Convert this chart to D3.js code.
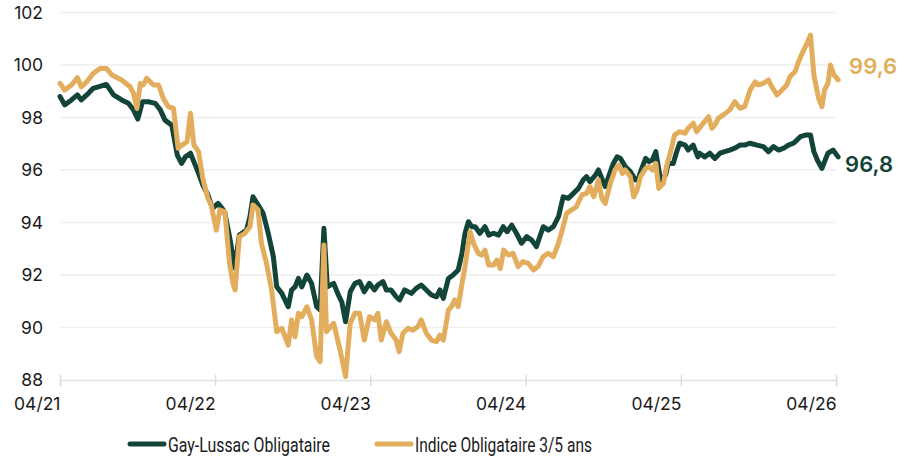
<!DOCTYPE html>
<html>
<head>
<meta charset="utf-8">
<script src="https://cdn.jsdelivr.net/npm/d3@7"></script>
<style>
  body { margin: 0; background: #fff; }
  svg { display: block; }
</style>
</head>
<body>
<svg id="chart" width="910" height="462"></svg>
<script>
// Gay-Lussac Obligataire (base 100)
var gayDates = ["2021-04-01","2021-04-12","2021-04-28","2021-05-12","2021-05-21","2021-06-03","2021-06-18","2021-06-30","2021-07-19","2021-08-05","2021-08-24","2021-09-09","2021-09-21","2021-10-01","2021-10-12","2021-10-26","2021-11-11","2021-11-23","2021-12-04","2021-12-20",
  "2022-01-02","2022-01-12","2022-01-21","2022-02-02","2022-02-10","2022-02-21","2022-03-03","2022-03-15","2022-03-26","2022-04-08","2022-04-20","2022-04-24","2022-05-05","2022-05-17","2022-05-28","2022-06-14","2022-06-22","2022-06-29","2022-07-11","2022-07-23","2022-08-04","2022-08-16","2022-08-24","2022-09-05","2022-09-20","2022-09-28","2022-10-06","2022-10-14","2022-10-22","2022-11-03","2022-11-14","2022-11-26","2022-12-04","2022-12-13","2022-12-21",
  "2023-01-05","2023-01-16","2023-01-24","2023-02-02","2023-02-13","2023-02-24","2023-03-07","2023-03-18","2023-03-30","2023-04-11","2023-04-19","2023-05-01","2023-05-09","2023-05-20","2023-06-01","2023-06-09","2023-06-21","2023-07-07","2023-07-18","2023-07-30","2023-08-11","2023-08-23","2023-09-04","2023-09-12","2023-09-20","2023-10-02","2023-10-13","2023-10-25","2023-11-03","2023-11-10","2023-11-18","2023-11-26","2023-12-04","2023-12-15","2023-12-27",
  "2024-01-05","2024-01-16","2024-01-28","2024-02-08","2024-02-17","2024-02-28","2024-03-10","2024-03-22","2024-04-03","2024-04-15","2024-04-26","2024-05-12","2024-05-24","2024-06-05","2024-06-17","2024-06-28","2024-07-10","2024-07-22","2024-08-03","2024-08-14","2024-08-22","2024-08-30","2024-09-12","2024-09-19","2024-09-27","2024-10-05","2024-10-13","2024-10-24","2024-11-02","2024-11-10","2024-11-21","2024-12-03","2024-12-15","2024-12-22","2024-12-30",
  "2025-01-08","2025-01-16","2025-01-24","2025-02-01","2025-02-12","2025-02-24","2025-03-02","2025-03-14","2025-03-21","2025-03-29","2025-04-11","2025-04-18","2025-04-30","2025-05-11","2025-05-15","2025-05-27","2025-06-08","2025-06-20","2025-07-02","2025-07-13","2025-07-25","2025-08-06","2025-08-18","2025-08-29","2025-09-11","2025-09-27","2025-10-12","2025-10-24","2025-11-05","2025-11-17","2025-11-29","2025-12-10","2025-12-22","2025-12-30",
  "2026-01-07","2026-01-19","2026-01-31","2026-02-08","2026-02-16","2026-02-27","2026-03-05","2026-03-13","2026-03-25","2026-04-06"];
var gayValues = [98.8,98.48,98.67,98.86,98.67,98.86,99.11,99.17,99.26,98.86,98.67,98.54,98.29,97.94,98.6,98.6,98.54,98.29,97.9,97.71,
  96.57,96.25,96.5,96.64,96.32,95.87,95.43,95.05,94.54,94.73,94.48,94.35,93.46,92.27,93.52,93.71,94.22,94.98,94.67,94.35,93.59,92.7,91.55,91.3,90.79,91.43,91.55,91.87,91.55,92.0,91.68,90.79,90.67,93.78,91.55,
  91.68,91.24,90.98,90.22,91.36,91.68,91.75,91.36,91.68,91.43,91.62,91.75,91.43,91.43,91.17,91.05,91.43,91.3,91.49,91.62,91.43,91.24,91.17,91.43,91.11,91.87,92.0,92.19,92.83,93.59,94.03,93.84,93.84,93.59,93.84,
  93.52,93.59,93.52,93.84,93.65,93.9,93.59,93.21,93.46,93.33,93.08,93.84,93.71,93.84,94.22,94.98,94.92,95.11,95.3,95.62,95.75,95.56,95.81,96.0,95.68,95.37,95.75,96.25,96.5,96.44,96.13,95.94,95.62,95.68,96.06,
  96.44,96.32,96.38,96.7,95.62,95.81,96.25,96.25,96.64,97.02,96.95,96.76,96.95,96.5,96.64,96.5,96.64,96.44,96.64,96.7,96.76,96.83,96.95,96.95,97.02,96.95,96.89,96.7,96.89,96.76,96.83,96.95,97.02,97.14,
  97.27,97.33,97.33,96.7,96.38,96.06,96.32,96.64,96.76,96.5];

// Indice Obligataire 3/5 ans (base 100)
var indexDates = ["2021-04-01","2021-04-12","2021-04-28","2021-05-12","2021-05-21","2021-06-03","2021-06-18","2021-07-04","2021-07-19","2021-08-01","2021-08-24","2021-09-13","2021-09-21","2021-09-29","2021-10-07","2021-10-14","2021-10-22","2021-11-07","2021-11-19","2021-11-30","2021-12-12","2021-12-24",
  "2022-01-04","2022-01-13","2022-01-25","2022-02-02","2022-02-10","2022-02-21","2022-03-03","2022-03-15","2022-03-23","2022-03-29","2022-04-04","2022-04-12","2022-04-24","2022-05-05","2022-05-13","2022-05-18","2022-05-28","2022-06-10","2022-06-22","2022-06-29","2022-07-11","2022-07-19","2022-07-31","2022-08-12","2022-08-24","2022-09-05","2022-09-20","2022-09-28","2022-10-06","2022-10-14","2022-10-22","2022-11-03","2022-11-14","2022-11-26","2022-12-04","2022-12-13","2022-12-19",
  "2023-01-05","2023-01-20","2023-02-02","2023-02-13","2023-02-24","2023-03-07","2023-03-18","2023-03-30","2023-04-11","2023-04-19","2023-04-27","2023-05-09","2023-05-20","2023-06-01","2023-06-08","2023-06-17","2023-06-29","2023-07-10","2023-07-22","2023-07-30","2023-08-11","2023-08-23","2023-09-04","2023-09-12","2023-09-20","2023-10-02","2023-10-09","2023-10-17","2023-10-25","2023-11-03","2023-11-10","2023-11-18","2023-11-22","2023-11-30","2023-12-11","2023-12-19","2023-12-27",
  "2024-01-05","2024-01-16","2024-01-24","2024-02-01","2024-02-09","2024-02-20","2024-03-02","2024-03-14","2024-03-25","2024-04-07","2024-04-19","2024-04-30","2024-05-12","2024-05-24","2024-06-05","2024-06-17","2024-06-28","2024-07-06","2024-07-18","2024-07-29","2024-08-11","2024-08-22","2024-08-30","2024-09-08","2024-09-19","2024-09-27","2024-10-05","2024-10-17","2024-10-28","2024-11-06","2024-11-14","2024-11-21","2024-12-03","2024-12-11","2024-12-19","2024-12-27",
  "2025-01-08","2025-01-16","2025-01-24","2025-02-01","2025-02-08","2025-02-19","2025-02-26","2025-03-10","2025-03-17","2025-03-29","2025-04-11","2025-04-18","2025-04-30","2025-05-08","2025-05-20","2025-06-05","2025-06-13","2025-06-20","2025-06-28","2025-07-10","2025-07-25","2025-08-06","2025-08-18","2025-08-29","2025-09-11","2025-09-23","2025-09-30","2025-10-12","2025-10-24","2025-11-01","2025-11-13","2025-11-25","2025-12-06","2025-12-14","2025-12-26",
  "2026-01-03","2026-01-15","2026-01-23","2026-01-31","2026-02-08","2026-02-19","2026-02-27","2026-03-05","2026-03-13","2026-03-19","2026-03-27","2026-04-06"];
var indexValues = [99.3,99.05,99.24,99.52,99.17,99.36,99.68,99.87,99.87,99.62,99.43,99.17,98.92,98.35,99.3,99.24,99.49,99.24,99.24,98.73,98.41,98.35,
  96.83,96.95,97.08,98.16,96.95,96.7,95.68,94.92,94.67,94.16,93.71,94.48,94.41,92.44,91.68,91.43,93.46,93.59,93.84,94.67,94.48,93.21,92.44,91.43,89.84,89.97,89.33,90.29,89.65,90.54,90.41,90.79,90.29,88.89,88.7,93.14,89.84,
  90.16,89.14,88.13,90.16,90.54,90.54,89.52,90.41,90.29,90.54,89.52,90.22,89.78,89.52,89.08,89.78,89.97,89.9,90.03,90.29,89.78,89.52,89.46,89.71,89.52,90.67,90.79,91.05,90.79,91.68,92.32,93.21,93.65,93.21,92.83,92.76,92.95,
  92.38,92.38,92.57,92.25,92.95,92.76,92.83,92.32,92.51,92.44,92.19,92.32,92.7,92.83,92.7,93.21,93.84,94.35,94.48,94.6,95.05,95.11,95.37,94.98,95.62,94.92,94.73,95.49,96.0,96.19,95.87,96.0,95.75,94.98,95.24,95.75,
  96.06,96.13,96.0,96.25,95.3,95.49,96.13,96.83,97.33,97.46,97.4,97.59,97.78,97.46,97.71,98.03,97.59,97.71,97.97,98.1,98.29,98.6,98.35,98.41,99.05,99.36,99.24,99.3,99.43,99.17,98.86,99.05,99.24,99.56,99.75,
  100.13,100.57,100.83,101.14,99.62,98.73,98.41,99.05,99.3,100.0,99.62,99.43];

var yTicks = [88, 90, 92, 94, 96, 98, 100, 102];
var xTickDates = ["2021-04-01","2022-04-01","2023-04-01","2024-04-01","2025-04-01","2026-04-01"];
var xTickLabels = ["04/21","04/22","04/23","04/24","04/25","04/26"];
var seriesNames = ["Gay-Lussac Obligataire", "Indice Obligataire 3/5 ans"];
var endLabels = ["96,8", "99,6"];

var GREEN = "#12443a";
var GOLD = "#e2ad5c";
var AXIS_FONT = "Inter, Liberation Sans, sans-serif";

var parse = d3.timeParse("%Y-%m-%d");
var svg = d3.select("#chart");

var x = d3.scaleTime()
  .domain([parse("2021-04-01"), parse("2026-04-01")])
  .range([60, 836]);

var y = d3.scaleLinear()
  .domain([88, 102])
  .range([380, 12.5]);

function toPoints(dates, values) {
  return dates.map(function (d, i) { return { date: parse(d), value: values[i] }; });
}
var gay = toPoints(gayDates, gayValues);
var idx = toPoints(indexDates, indexValues);

// grid
svg.append("g")
  .selectAll("line")
  .data(yTicks.slice(1))
  .enter().append("line")
  .attr("x1", x.range()[0])
  .attr("x2", x.range()[1])
  .attr("y1", function (d) { return y(d); })
  .attr("y2", function (d) { return y(d); })
  .attr("stroke", "#eeeeee")
  .attr("stroke-width", 1.5);

// y labels
svg.append("g")
  .selectAll("text")
  .data(yTicks)
  .enter().append("text")
  .attr("x", 43)
  .attr("y", function (d) { return y(d); })
  .attr("dy", "0.36em")
  .attr("text-anchor", "end")
  .attr("font-family", AXIS_FONT)
  .attr("font-size", 17.5)
  .attr("fill", "#1a1a1a")
  .text(function (d) { return d; });

// x axis
var xAxis = svg.append("g")
  .attr("transform", "translate(0," + y(88) + ")")
  .call(d3.axisBottom(x)
    .tickValues(xTickDates.map(parse))
    .tickSize(6)
    .tickFormat(function (d, i) { return xTickLabels[i]; }));
xAxis.select(".domain").attr("stroke", "#e2e2e2").attr("stroke-width", 1.5);
xAxis.selectAll(".tick line").attr("stroke", "#dddddd").attr("stroke-width", 1.5).attr("y1", -5);
xAxis.selectAll(".tick text")
  .attr("text-anchor", "end")
  .attr("y", 18)
  .attr("dy", "0.71em")
  .attr("font-family", AXIS_FONT)
  .attr("font-size", 17.5)
  .attr("fill", "#1a1a1a");

var line = d3.line()
  .x(function (d) { return x(d.date); })
  .y(function (d) { return y(d.value); });

svg.append("path")
  .datum(gay)
  .attr("fill", "none")
  .attr("stroke", GREEN)
  .attr("stroke-width", 5)
  .attr("stroke-linejoin", "round")
  .attr("stroke-linecap", "round")
  .attr("d", line);

svg.append("path")
  .datum(idx)
  .attr("fill", "none")
  .attr("stroke", GOLD)
  .attr("stroke-width", 5)
  .attr("stroke-linejoin", "round")
  .attr("stroke-linecap", "round")
  .attr("d", line);

// end value labels
var lastGay = gay[gay.length - 1];
var lastIdx = idx[idx.length - 1];
svg.append("text")
  .attr("x", x(lastGay.date) + 7)
  .attr("y", y(lastGay.value) + 15)
  .attr("font-family", "Inter, Liberation Sans, sans-serif")
  .attr("font-size", 22)
  .attr("font-weight", 600)
  .attr("fill", GREEN)
  .text(endLabels[0]);
svg.append("text")
  .attr("x", x(lastIdx.date) + 11)
  .attr("y", y(lastIdx.value) - 6)
  .attr("font-family", "Inter, Liberation Sans, sans-serif")
  .attr("font-size", 22)
  .attr("font-weight", 600)
  .attr("fill", GOLD)
  .text(endLabels[1]);

// legend (condensed face in the original, squeezed here)
var legendX = [128, 375];
var legendWidths = [162, 177];
var legendColors = [GREEN, GOLD];
var legend = svg.append("g")
  .selectAll("g")
  .data(seriesNames)
  .enter().append("g")
  .attr("transform", function (d, i) { return "translate(" + legendX[i] + ",444)"; });
legend.append("line")
  .attr("x1", 2).attr("x2", 36)
  .attr("stroke", function (d, i) { return legendColors[i]; })
  .attr("stroke-width", 5)
  .attr("stroke-linecap", "round");
legend.append("text")
  .attr("x", 40)
  .attr("dy", "0.36em")
  .attr("font-family", "Roboto, sans-serif")
  .attr("font-size", 21)
  .attr("fill", "#1a1a1a")
  .attr("textLength", function (d, i) { return legendWidths[i]; })
  .attr("lengthAdjust", "spacingAndGlyphs")
  .text(function (d) { return d; });
</script>
</body>
</html>
